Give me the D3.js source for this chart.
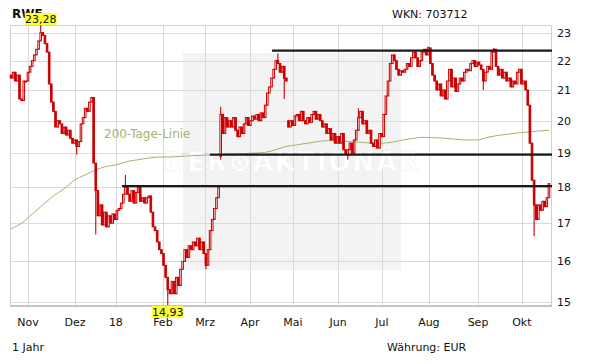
<!DOCTYPE html>
<meta charset="utf-8">
<style>
  body { margin: 0; background: #fff; }
  text { font-family: "DejaVu Sans", Verdana, sans-serif; }
</style>
<svg width="611" height="364"></svg>
<script src="https://d3js.org/d3.v7.min.js"></script>
<script>
  // daily closes, one per trading day (Oct 2017 - Oct 2018)
  var closes = [
    21.4, 21.6, 21.3, 21.5, 20.7, 20.65, 21.3, 21.3, 21.6, 21.8,
    22.0, 22.2, 22.4, 22.7, 23.0, 22.9, 22.6, 22.3, 21.2, 20.6,
    20.3, 19.8, 20.0, 19.9, 19.6, 19.8, 19.55, 19.7, 19.45, 19.3,
    19.4, 19.2, 19.35, 19.9, 20.1, 20.4, 20.3, 20.6, 20.75, 18.7,
    17.9, 17.2, 17.5, 16.95, 17.3, 16.9, 17.2, 17.0, 17.25, 17.1,
    17.35, 17.4, 17.55, 17.8, 18.0, 17.8, 17.6, 17.9, 17.55, 17.85,
    18.0, 17.6, 17.7, 17.55, 17.7, 17.75, 17.3, 16.9, 16.8, 16.5,
    16.3, 16.2, 15.9, 15.6, 15.3, 15.2, 15.5, 15.2, 15.6, 15.4,
    15.8, 16.0, 16.3, 16.1, 16.4, 16.3, 16.5, 16.4, 16.6, 16.3,
    16.5, 16.2, 15.9, 16.3, 16.8, 17.1, 17.4, 17.7, 18.0, 20.2,
    19.6, 20.1, 19.8, 20.0, 19.8, 20.1, 19.7, 19.5, 19.8, 19.6,
    19.9, 20.1, 19.85, 20.0, 20.15, 20.05, 20.2, 20.0, 20.25, 20.1,
    20.5, 20.9, 21.1, 21.4, 21.7, 22.0, 21.9, 21.6, 21.8, 21.4,
    21.3, 19.8, 20.0, 19.85, 20.15, 20.2, 20.0, 20.3, 20.0, 19.9,
    20.1, 19.95, 20.2, 20.3, 20.05, 20.2, 20.0, 19.8, 19.9, 19.6,
    19.75, 19.4, 19.6, 19.3, 19.5, 19.3, 19.6, 19.1, 18.95, 19.1,
    19.3, 19.0, 19.4, 19.7, 20.1, 20.3, 19.9, 20.0, 19.6, 19.7,
    19.3, 19.2, 19.4, 19.15, 19.6, 19.5, 20.2, 20.8, 21.3, 21.9,
    22.2, 22.0, 21.7, 21.5, 21.65, 21.6, 21.7, 21.9, 21.8, 22.1,
    22.3, 22.1, 21.8, 22.0, 22.3, 22.4, 22.2, 22.45, 21.9, 21.5,
    21.3, 21.0, 21.2, 20.8, 21.0, 20.7, 21.3, 21.7, 21.1, 21.4,
    20.95, 21.2, 21.4, 21.3, 21.6, 21.7, 21.65, 21.9, 22.0, 21.8,
    21.95, 21.85, 21.7, 21.3, 21.6, 21.8, 21.7, 22.3, 22.4, 21.8,
    21.5, 21.7, 21.4, 21.6, 21.3, 21.4, 21.1, 21.3, 21.2, 21.6,
    21.7, 21.2, 21.3, 21.0, 20.5, 19.3, 18.2, 17.5, 17.1, 17.5,
    17.35, 17.6, 17.45, 17.7, 18.1
  ];
  // opening gaps [day, open]
  var gapOpens = [[0, 21.5], [99, 18.9], [131, 20.0]];
  // visible wicks [day, low, high]
  var wicks = [
    [14, null, 23.28], [31, 18.95, null], [40, 16.7, null], [54, null, 18.35],
    [60, null, 18.05], [74, 14.93, null], [92, 15.8, null], [99, 18.8, 20.45],
    [126, null, 22.25], [129, 20.7, null], [159, 18.8, null], [164, null, 20.4],
    [197, null, 22.5], [223, 21.0, null], [228, null, 22.45], [247, 16.65, null]
  ];
  // 200-day average, one value every 5 trading days
  var maStep = 5;
  var ma200 = [
    16.85, 17.0, 17.25, 17.5, 17.75, 17.95, 18.2, 18.35, 18.5, 18.6,
    18.65, 18.75, 18.8, 18.85, 18.88, 18.88, 18.9, 18.92, 18.93, 18.95,
    18.96, 18.97, 18.98, 19.0, 19.02, 19.1, 19.2, 19.25, 19.3, 19.35,
    19.38, 19.37, 19.35, 19.33, 19.3, 19.3, 19.33, 19.4, 19.45, 19.48,
    19.47, 19.45, 19.42, 19.4, 19.4, 19.48, 19.54, 19.58, 19.62, 19.65,
    19.68, 19.7
  ];
  var monthLabels = ["Nov", "Dez", "18", "Feb", "Mrz", "Apr", "Mai", "Jun", "Jul", "Aug", "Sep", "Okt"];
  var monthPos = [8, 30.2, 49.5, 71.7, 91.6, 112.8, 133.1, 154.4, 175.1, 197.3, 220.5, 241.2];
  var yTicks = [15, 16, 17, 18, 19, 20, 21, 22, 23];
  // support / resistance lines [start day, level]
  var levels = [[52.4, 18.03], [93.9, 18.95], [123.2, 22.35]];
  // marked extremes [day, value, label]
  var extremes = [[14, 23.28, "23,28", "top"], [74, 14.93, "14,93", "bottom"]];

  var svg = d3.select("svg"),
    pLeft = 10, pRight = 551, pTop = 25, pBottom = 305;

  var x = d3.scaleLinear().domain([-0.5, closes.length - 0.5]).range([pLeft, pRight - 1]);
  var y = d3.scaleLog().domain([14.93, 23.28]).range([pBottom, pTop]);

  var red = "#cc0000", green = "#a3b36a";

  // watermark box
  svg.append("rect")
    .attr("x", 183).attr("y", 53).attr("width", 218).attr("height", 217)
    .attr("fill", "#f3f3f3");

  // grid
  var grid = svg.append("g").attr("stroke", "#d9d9d9").attr("shape-rendering", "crispEdges");
  grid.selectAll(".h").data(yTicks).enter().append("line")
    .attr("x1", pLeft).attr("x2", pRight)
    .attr("y1", function(d) { return Math.round(y(d)) + 0.5; })
    .attr("y2", function(d) { return Math.round(y(d)) + 0.5; });
  grid.selectAll(".v").data(monthPos).enter().append("line")
    .attr("y1", pTop).attr("y2", pBottom)
    .attr("x1", function(d) { return Math.round(x(d)) + 0.5; })
    .attr("x2", function(d) { return Math.round(x(d)) + 0.5; });
  svg.append("rect")
    .attr("x", pLeft + 0.5).attr("y", pTop + 0.5)
    .attr("width", pRight - pLeft).attr("height", pBottom - pTop)
    .attr("fill", "none").attr("stroke", "#d0d0d0").attr("shape-rendering", "crispEdges");
  svg.append("line")
    .attr("x1", pLeft).attr("x2", pRight + 1).attr("y1", pBottom + 1).attr("y2", pBottom + 1)
    .attr("stroke", "#c4c4c4").attr("stroke-width", 2);

  svg.append("text")
    .attr("x", 292).attr("y", 171)
    .attr("text-anchor", "middle")
    .style("font-size", "26px").style("font-weight", "bold")
    .style("letter-spacing", "2px")
    .attr("fill", "#ffffff").attr("stroke", "#eeeeee").attr("stroke-width", 0.5)
    .text("DER\u2299AKTIONÄR");

  // 200 day line
  var maLine = d3.line()
    .x(function(d, k) { return x(Math.min(k * maStep, closes.length - 1)); })
    .y(function(d) { return y(d); })
    .curve(d3.curveMonotoneX);
  svg.append("path").datum(ma200)
    .attr("d", maLine).attr("fill", "none")
    .attr("stroke", green).attr("stroke-width", 1);

  svg.append("text")
    .attr("x", 104).attr("y", 138)
    .style("font-size", "12px")
    .attr("fill", green)
    .text("200-Tage-Linie");

  // candles
  var gapMap = new Map(gapOpens), wickMap = new Map(wicks.map(function(w) { return [w[0], w]; }));
  var candles = closes.map(function(c, i) {
    var o = gapMap.has(i) ? gapMap.get(i) : closes[i - 1];
    var hi = Math.max(o, c), lo = Math.min(o, c);
    var w = wickMap.get(i);
    if (w && w[1] != null) lo = Math.min(lo, w[1]);
    if (w && w[2] != null) hi = Math.max(hi, w[2]);
    return { i: i, o: o, c: c, hi: hi, lo: lo };
  });

  var cg = svg.append("g");
  cg.selectAll(".wick").data(candles).enter().append("line")
    .attr("x1", function(d) { return x(d.i); })
    .attr("x2", function(d) { return x(d.i); })
    .attr("y1", function(d) { return y(d.hi); })
    .attr("y2", function(d) { return y(d.lo); })
    .attr("stroke", red).attr("stroke-width", 1.1);
  cg.selectAll(".body").data(candles).enter().append("rect")
    .attr("x", function(d) { return x(d.i) - 0.8; })
    .attr("width", 1.6)
    .attr("y", function(d) { return y(Math.max(d.o, d.c)); })
    .attr("height", function(d) { return Math.max(1, y(Math.min(d.o, d.c)) - y(Math.max(d.o, d.c))); })
    .attr("fill", function(d) { return d.c >= d.o ? "#fff" : red; })
    .attr("stroke", red).attr("stroke-width", 1);

  // horizontal levels
  svg.selectAll(".level").data(levels).enter().append("line")
    .attr("x1", function(d) { return x(d[0]); })
    .attr("x2", pRight + 1)
    .attr("y1", function(d) { return y(d[1]); })
    .attr("y2", function(d) { return y(d[1]); })
    .attr("stroke", "#1a1a1a").attr("stroke-width", 2.2);

  // axes labels
  svg.selectAll(".yl").data(yTicks).enter().append("text")
    .attr("x", 557)
    .attr("y", function(d) { return y(d) + 4; })
    .style("font-size", "11px").attr("fill", "#111")
    .text(function(d) { return d; });

  svg.selectAll(".ml").data(monthLabels).enter().append("text")
    .attr("x", function(d, k) { return x(monthPos[k]); })
    .attr("y", 326)
    .attr("text-anchor", "middle")
    .style("font-size", "11px").attr("fill", "#111")
    .text(function(d) { return d; });

  svg.append("text").attr("x", 12).attr("y", 18)
    .style("font-size", "12px").style("font-weight", "bold").attr("fill", "#111")
    .text("RWE");
  svg.append("text").attr("x", 392).attr("y", 18)
    .style("font-size", "11px").attr("fill", "#111")
    .text("WKN: 703712");
  svg.append("text").attr("x", 12).attr("y", 351)
    .style("font-size", "11px").attr("fill", "#111")
    .text("1 Jahr");
  svg.append("text").attr("x", 387).attr("y", 351)
    .style("font-size", "11px").attr("fill", "#111")
    .text("Währung: EUR");

  // extreme value tags
  extremes.forEach(function(e) {
    var cx = x(e[0]), w = 32, h = 12;
    var by = e[3] == "top" ? pTop - h : pBottom + 1;
    svg.append("rect")
      .attr("x", cx - w / 2).attr("y", by).attr("width", w).attr("height", h)
      .attr("fill", "#ffff33");
    svg.append("text")
      .attr("x", cx).attr("y", by + 10)
      .attr("text-anchor", "middle")
      .style("font-size", "11px").attr("fill", "#111")
      .text(e[2]);
  });
</script>
